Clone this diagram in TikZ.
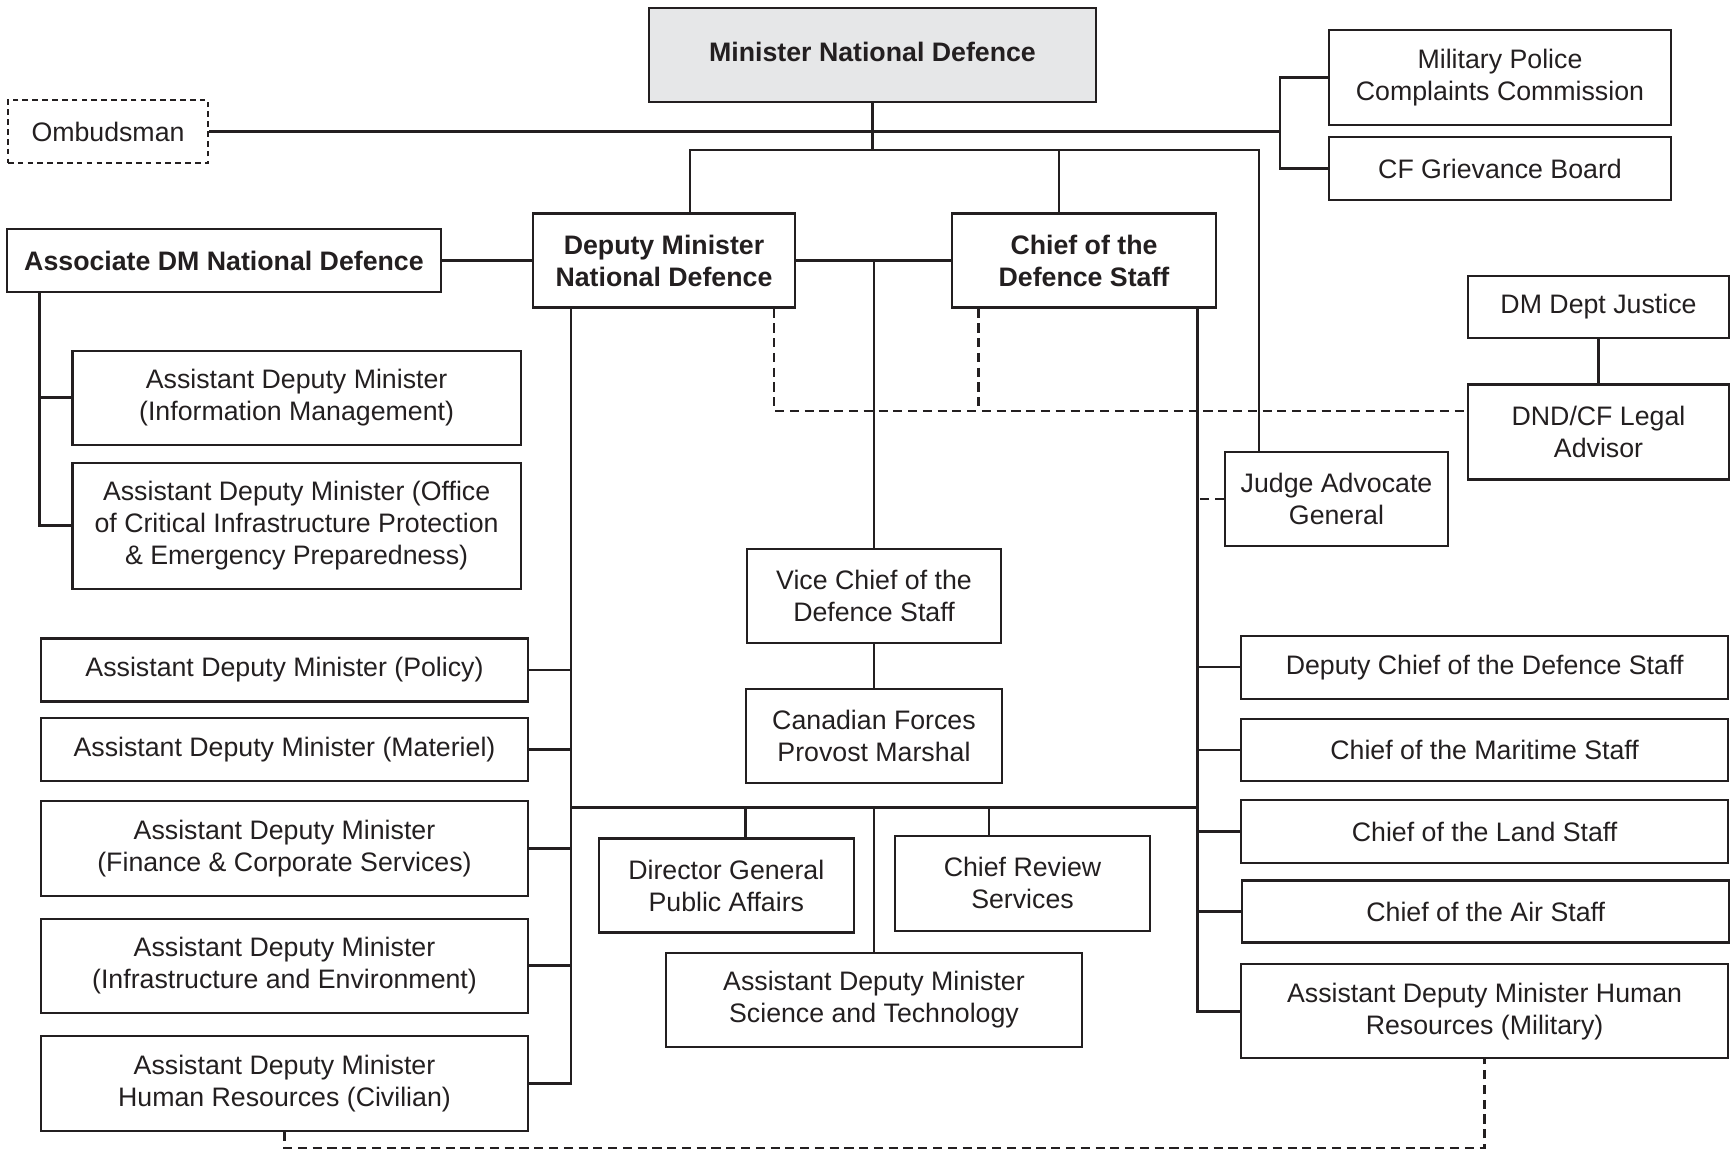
\documentclass[tikz,border=0pt]{standalone}
\usepackage{fontspec}
\setmainfont{Liberation Sans}
\usepackage{tikz}
\definecolor{ink}{HTML}{231F20}
\definecolor{mndgray}{HTML}{E6E7E8}

\begin{document}
\begin{tikzpicture}[x=0.01cm,y=-0.01cm,
		unit/.style={draw=ink, line width=0.6pt, rectangle, align=center, inner sep=0pt, text=ink, font=\fontsize{7.6}{9.1}\selectfont},
		head/.style={unit, font=\fontsize{7.6}{9.1}\selectfont\bfseries},
		oneline/.style={minimum height=0.63cm},
		twoline/.style={minimum height=0.94cm},
		link/.style={draw=ink, line width=0.75pt},
		advice/.style={link, dash pattern=on 2.6pt off 1.6pt}]
		\useasboundingbox (0,0) rectangle (1730,1151);
		
		%top
		\node[head, twoline, fill=mndgray, minimum width=4.47cm] (mnd) at (872.5,55) {\raisebox{2pt}{Minister National Defence}};
		\node[unit, oneline, minimum width=2cm, dash pattern=on 1.6pt off 1.2pt] (omb) at (108,131.5) {Ombudsman};
		\node[unit, minimum height=0.95cm, minimum width=3.42cm] (mpcc) at (1500,77.7) {Military Police\\Complaints Commission};
		\node[unit, oneline, minimum width=3.42cm] (cfgb) at (1500,168.8) {CF Grievance Board};
		
		%deputies
		\node[head, oneline, minimum width=4.33cm] (adm) at (224,260.5) {Associate DM National Defence};
		\node[head, twoline, minimum width=2.62cm] (dm) at (664,260.5) {Deputy Minister\\National Defence};
		\node[head, twoline, minimum width=2.63cm] (cds) at (1084,260.5) {Chief of the\\Defence Staff};
		
		%legal
		\node[unit, minimum height=0.62cm, minimum width=2.61cm] (dmj) at (1598.5,307) {DM Dept Justice};
		\node[unit, minimum height=0.95cm, minimum width=2.61cm] (legal) at (1598.5,432) {DND/CF Legal\\Advisor};
		\node[unit, twoline, minimum width=2.23cm] (jag) at (1336.5,499) {Judge Advocate\\General};
		
		%associate dm
		\node[unit, twoline, minimum width=4.48cm] (im) at (296.6,397.8) {Assistant Deputy Minister\\(Information Management)};
		\node[unit, minimum height=1.26cm, minimum width=4.48cm] (ocipep) at (296.6,525.8) {Assistant Deputy Minister (Office\\of Critical Infrastructure Protection\\\& Emergency Preparedness)};
		
		%deputy minister side
		\node[unit, oneline, minimum width=4.87cm] (policy) at (284.5,670) {Assistant Deputy Minister (Policy)};
		\node[unit, oneline, minimum width=4.87cm] (materiel) at (284.5,749.5) {Assistant Deputy Minister (Materiel)};
		\node[unit, minimum height=0.95cm, minimum width=4.87cm] (finance) at (284.5,848.6) {Assistant Deputy Minister\\(Finance \& Corporate Services)};
		\node[unit, twoline, minimum width=4.87cm] (infra) at (284.5,965.8) {Assistant Deputy Minister\\(Infrastructure and Environment)};
		\node[unit, minimum height=0.95cm, minimum width=4.87cm] (hrciv) at (284.5,1083.3) {Assistant Deputy Minister\\Human Resources (Civilian)};
		
		%middle
		\node[unit, twoline, minimum width=2.54cm] (vcds) at (874,596.3) {Vice Chief of the\\Defence Staff};
		\node[unit, twoline, minimum width=2.55cm] (cfpm) at (874,736.4) {Canadian Forces\\Provost Marshal};
		\node[unit, twoline, minimum width=2.55cm] (dgpa) at (726.3,885.5) {Director General\\Public Affairs};
		\node[unit, minimum height=0.95cm, minimum width=2.54cm] (crs) at (1022.5,883.4) {Chief Review\\Services};
		\node[unit, twoline, minimum width=4.15cm] (snt) at (874,1000) {Assistant Deputy Minister\\Science and Technology};
		
		%chief of the defence staff side
		\node[unit, oneline, minimum width=4.87cm] (dcds) at (1484.6,667.1) {Deputy Chief of the Defence Staff};
		\node[unit, minimum height=0.62cm, minimum width=4.87cm] (cms) at (1484.6,749.9) {Chief of the Maritime Staff};
		\node[unit, oneline, minimum width=4.87cm] (cls) at (1484.6,831.5) {Chief of the Land Staff};
		\node[unit, minimum height=0.62cm, minimum width=4.87cm] (cas) at (1485.7,911.5) {Chief of the Air Staff};
		\node[unit, twoline, minimum width=4.87cm] (hrmil) at (1484.6,1011.4) {Assistant Deputy Minister Human\\Resources (Military)};
		
		%minister lines
		\coordinate (bus) at (872.5,150);
		\coordinate (brk) at (1280,131.5);
		\coordinate (cdsin) at ([xshift=-0.25cm]cds.north);
		\draw[link] (mnd.south) -- (bus);
		\draw[link] ([xshift=0.26cm]dm.north) |- (bus) -| ([xshift=-0.775cm]jag.north);
		\draw[link] (cdsin) -- (cdsin |- bus);
		\draw[link] (omb.east) -- (brk);
		\draw[link] (mpcc.west) -| (brk) |- (cfgb.west);
		
		%deputy lines
		\draw[link] (adm.east) -- (dm.west);
		\draw[link] (dm.east) -- (cds.west);
		\draw[link] (vcds.north) -- (vcds.north |- dm.east);
		\draw[link] (vcds.south) -- (cfpm.north);
		
		%associate trunk
		\coordinate (atr) at ([xshift=0.33cm]adm.south west);
		\draw[link] (atr) |- (ocipep.west);
		\draw[link] (atr |- im.west) -- (im.west);
		
		%dm trunk
		\coordinate (dtr) at ([xshift=0.39cm]dm.south west);
		\draw[link] (dtr) |- (hrciv.east);
		\foreach \n in {policy,materiel,finance,infra}
			\draw[link] (\n.east) -- (\n.east -| dtr);
		
		%cds trunk
		\coordinate (ctr) at ([xshift=-0.19cm]cds.south east);
		\draw[link] (ctr) |- (hrmil.west);
		\foreach \n in {dcds,cms,cls,cas}
			\draw[link] (\n.west) -- (\n.west -| ctr);
		
		%middle bus
		\coordinate (mid) at (874,807.5);
		\coordinate (dgpain) at ([xshift=0.19cm]dgpa.north);
		\coordinate (crsin) at ([xshift=-0.335cm]crs.north);
		\draw[link] (mid -| dtr) -- (mid -| ctr);
		\draw[link] (mid) -- (snt.north);
		\draw[link] (dgpain) -- (dgpain |- mid);
		\draw[link] (crsin) -- (crsin |- mid);
		
		%legal advice
		\coordinate (lgl) at ([yshift=-0.275cm]legal.north west);
		\coordinate (dmout) at ([xshift=1.1cm]dm.south);
		\coordinate (cdsout) at ([xshift=-1.056cm]cds.south);
		\coordinate (low) at (0,1148);
		\draw[link] (dmj.south) -- (legal.north);
		\draw[advice] (dmout) |- (lgl);
		\draw[advice] (cdsout) -- (cdsout |- lgl);
		\draw[advice] (jag.west) -- (jag.west -| ctr);
		\draw[advice] (hrciv.south) |- (hrmil.south |- low) -- (hrmil.south);
		
\end{tikzpicture}
\end{document}
